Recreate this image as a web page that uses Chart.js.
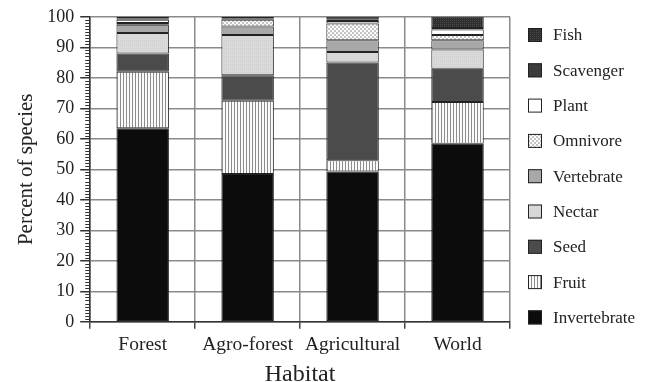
<!DOCTYPE html>
<html>
<head>
<meta charset="utf-8">
<script src="https://cdn.jsdelivr.net/npm/chart.js@4"></script>
<style>
  html, body { margin: 0; padding: 0; background: #fff; }
  #wrap { width: 648px; height: 382px; }
</style>
</head>
<body>
<div id="wrap"><canvas id="myChart" width="648" height="382"></canvas></div>
<script>
// categories
const habitats = ['Forest', 'Agro-forest', 'Agricultural', 'World'];

// percent of species per diet guild (stacked, bottom to top)
const invertebrate = [63.5, 48.5, 49.3, 58.4];
const fruit        = [18.5, 24.0, 3.7, 13.7];
const seed         = [6.0, 8.3, 32.0, 10.9];
const nectar       = [6.7, 13.2, 3.5, 6.3];
const vertebrate   = [2.7, 2.8, 3.8, 3.0];
const omnivore     = [0.6, 2.2, 5.5, 1.7];
const plant        = [1.0, 0.0, 0.8, 1.8];
const scavenger    = [0.5, 0.5, 0.6, 0.5];
const fish         = [0.5, 0.5, 0.8, 3.7];

const yTicks = [0, 10, 20, 30, 40, 50, 60, 70, 80, 90, 100];

// fill patterns
function makePattern(size, draw) {
    const c = document.createElement('canvas');
    c.width = size; c.height = size;
    const g = c.getContext('2d');
    draw(g);
    return c.getContext('2d').createPattern(c, 'repeat');
}
const stripes = makePattern(3, g => {
    g.fillStyle = '#fafafa'; g.fillRect(0, 0, 3, 3);
    g.fillStyle = '#8c8c8c'; g.fillRect(0, 0, 1, 3);
});
const dotsLight = makePattern(4, g => {
    g.fillStyle = '#fdfdfd'; g.fillRect(0, 0, 4, 4);
    g.fillStyle = '#c4c4c4'; g.fillRect(0, 0, 2, 2); g.fillRect(2, 2, 2, 2);
});
const nectarFill = makePattern(2, g => {
    g.fillStyle = '#dadada'; g.fillRect(0, 0, 2, 2);
    g.fillStyle = '#cfcfcf'; g.fillRect(0, 0, 1, 1);
});
const fishFill = makePattern(2, g => {
    g.fillStyle = '#2e2e2e'; g.fillRect(0, 0, 2, 2);
    g.fillStyle = '#4a4a4a'; g.fillRect(0, 0, 1, 1);
});

const series = [
    { label: 'Invertebrate', data: invertebrate, fill: '#0c0c0c' },
    { label: 'Fruit', data: fruit, fill: stripes },
    { label: 'Seed', data: seed, fill: '#4b4b4b' },
    { label: 'Nectar', data: nectar, fill: nectarFill },
    { label: 'Vertebrate', data: vertebrate, fill: '#a8a8a8' },
    { label: 'Omnivore', data: omnivore, fill: dotsLight },
    { label: 'Plant', data: plant, fill: '#ffffff' },
    { label: 'Scavenger', data: scavenger, fill: '#3c3c3c' },
    { label: 'Fish', data: fish, fill: fishFill }
];

const FONT = "'Liberation Serif', 'Times New Roman', serif";

// minor ticks on the y axis + hand drawn legend on the right
const extras = {
    id: 'extras',
    afterDraw(chart) {
        const ctx = chart.ctx;
        const y = chart.scales.y;
        const left = chart.chartArea.left;
        ctx.save();
        ctx.strokeStyle = '#333';
        ctx.lineWidth = 1;
        for (let v = 0; v <= 100; v++) {
            if (v % 10 === 0) continue;
            const py = Math.round(y.getPixelForValue(v)) + 0.5;
            ctx.beginPath();
            ctx.moveTo(left - 5, py);
            ctx.lineTo(left, py);
            ctx.stroke();
        }
        // legend
        const ds = chart.data.datasets.slice().reverse();
        ctx.font = '17px ' + FONT;
        ctx.textBaseline = 'middle';
        ds.forEach((d, i) => {
            const cy = 35 + i * 35.3;
            ctx.fillStyle = d.backgroundColor;
            ctx.fillRect(528, cy - 7, 14, 14);
            ctx.strokeStyle = '#222';
            ctx.lineWidth = 1;
            ctx.strokeRect(528.5, cy - 6.5, 13, 13);
            ctx.fillStyle = '#222';
            ctx.fillText(d.label, 553, cy + 1);
        });
        ctx.restore();
    }
};

new Chart(document.getElementById('myChart'), {
    type: 'bar',
    data: {
        labels: habitats,
        datasets: series.map(s => ({
            label: s.label,
            data: s.data,
            backgroundColor: s.fill,
            borderColor: '#222',
            borderWidth: 1,
            borderSkipped: false,
            barPercentage: 0.5,
            categoryPercentage: 1.0
        }))
    },
    options: {
        responsive: false,
        devicePixelRatio: 1,
        animation: false,
        layout: { padding: { left: 14, right: 138, top: 6, bottom: -7 } },
        plugins: {
            legend: { display: false },
            tooltip: { enabled: false }
        },
        scales: {
            x: {
                stacked: true,
                offset: true,
                grid: { offset: true, color: '#8a8a8a', lineWidth: 1.5, tickLength: 7, tickColor: '#444' },
                border: { color: '#333', width: 1.5 },
                ticks: { color: '#222', font: { family: FONT, size: 19.5 }, padding: 4 },
                title: { display: true, text: 'Habitat', color: '#222', font: { family: FONT, size: 24 }, padding: { top: 0, bottom: 0 } }
            },
            y: {
                stacked: true,
                min: 0,
                max: 100,
                afterBuildTicks: scale => { scale.ticks = yTicks.map(v => ({ value: v })); },
                grid: { color: '#8a8a8a', lineWidth: 1.5, tickLength: 10, tickColor: '#333' },
                border: { color: '#333', width: 1.5 },
                ticks: { color: '#222', font: { family: FONT, size: 18 }, padding: 6 },
                title: { display: true, text: 'Percent of species', color: '#222', font: { family: FONT, size: 21 }, padding: { top: 0, bottom: 2 } }
            }
        }
    },
    plugins: [extras]
});
</script>
</body>
</html>
